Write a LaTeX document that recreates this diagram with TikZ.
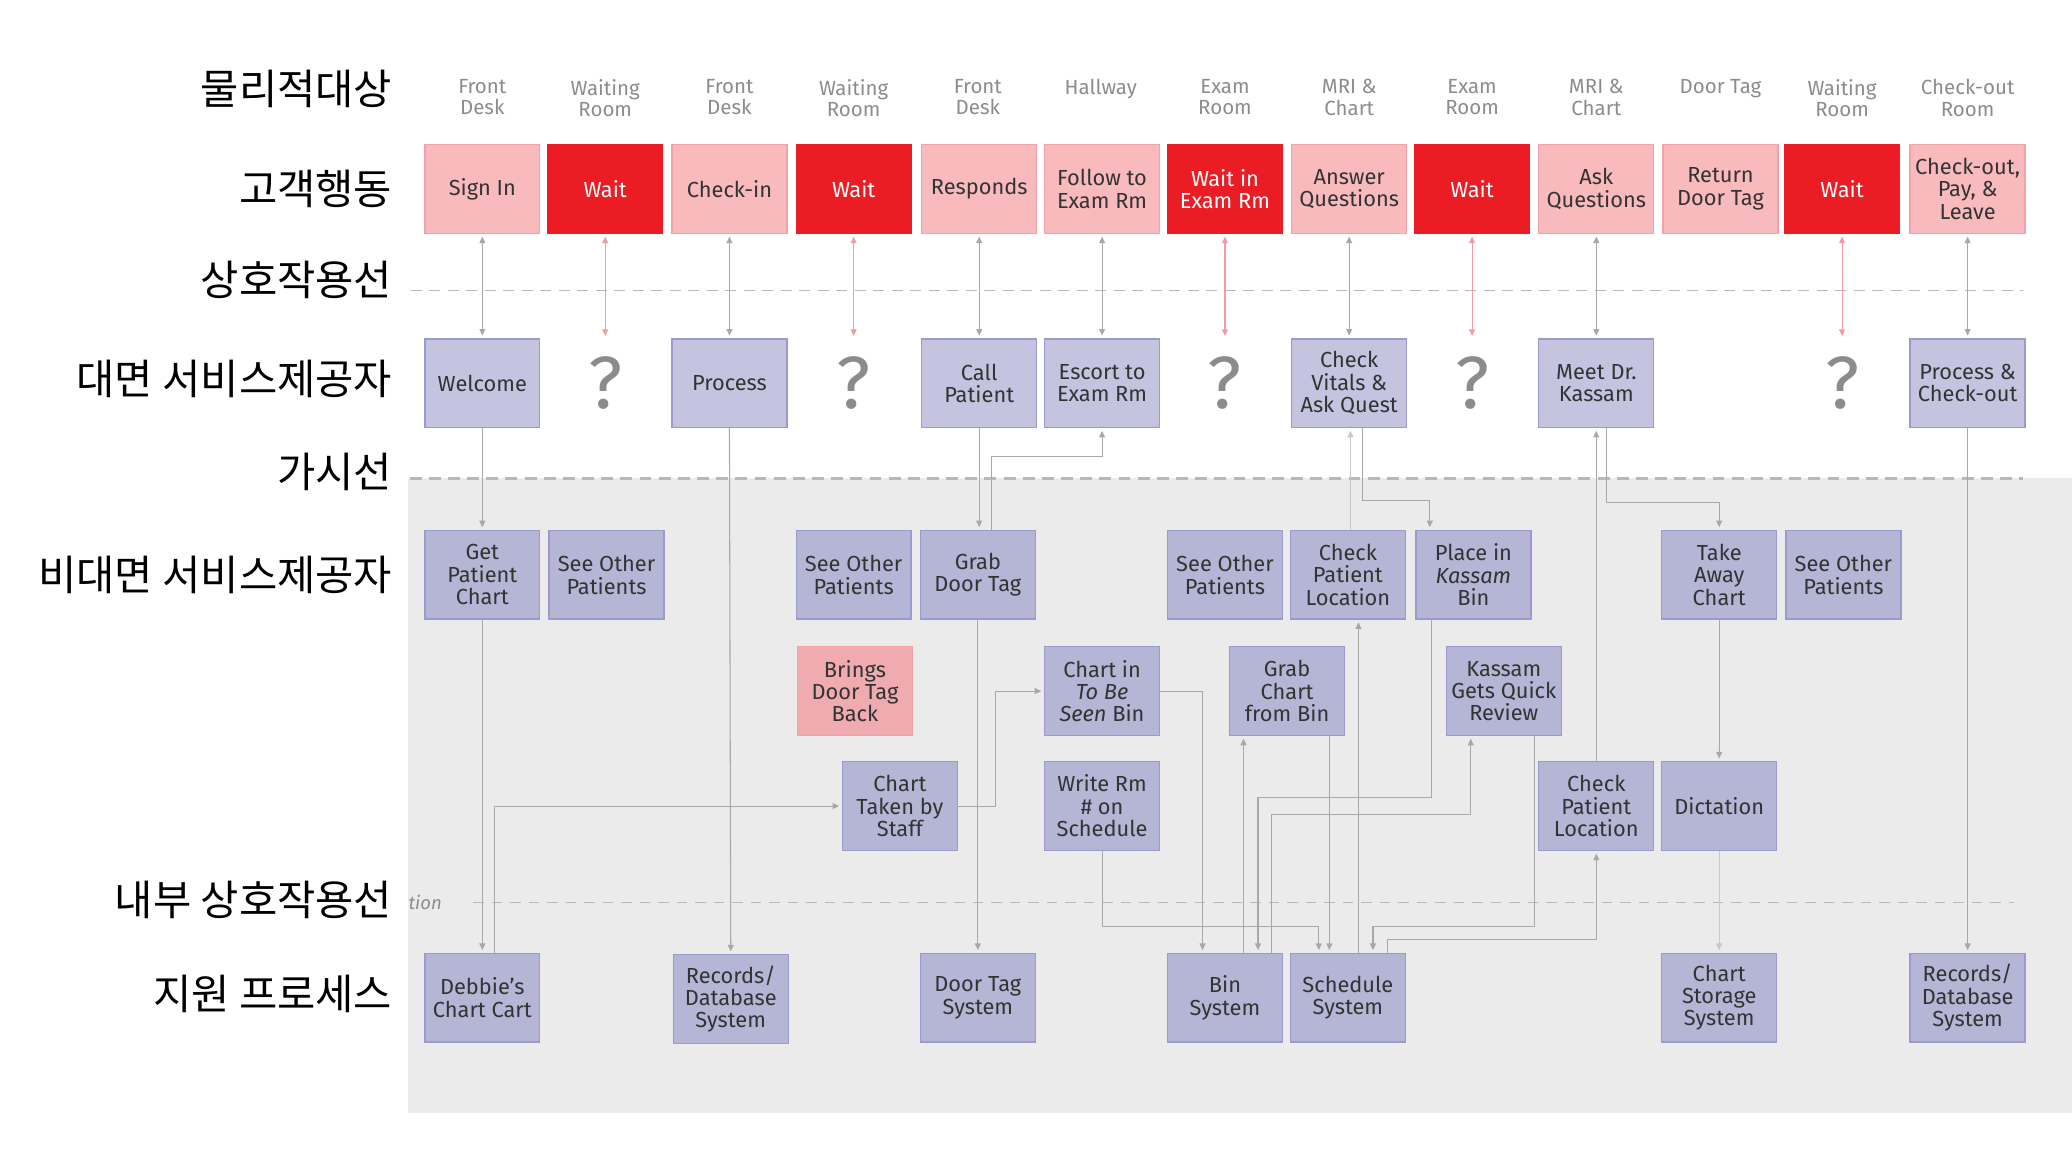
\documentclass[tikz,border=0pt]{standalone}
\usepackage{fontspec}
\setmainfont{Fira Sans}
\newfontfamily\krfont{Noto Sans CJK KR}
\usetikzlibrary{arrows.meta,calc}
\definecolor{custpink}{HTML}{F9BABD}
\definecolor{custline}{HTML}{F4A2A7}
\definecolor{waitred}{HTML}{EC1C24}
\definecolor{bringsfill}{HTML}{EFABAF}
\definecolor{frontfill}{HTML}{C4C4E1}
\definecolor{backfill}{HTML}{B5B5D5}
\definecolor{boxline}{HTML}{9A9ACC}
\definecolor{textdark}{HTML}{333333}
\definecolor{labelgray}{HTML}{8C8C8C}
\definecolor{linegray}{HTML}{A8A8A8}
\definecolor{lightline}{HTML}{C8C8C8}
\definecolor{pinkline}{HTML}{F29CA1}
\definecolor{bggray}{HTML}{EBEBEB}
\definecolor{dashgray}{HTML}{B8B8B8}

\tikzset{
  box/.style={rectangle, minimum width=87pt, minimum height=67pt, inner sep=1pt,
    align=center, text=textdark, line width=1pt, font=\fontsize{16.5}{17}\selectfont},
  cust/.style={box, fill=custpink, draw=custline},
  waitbox/.style={box, fill=waitred, draw=waitred, text=white},
  front/.style={box, fill=frontfill, draw=boxline},
  back/.style={box, fill=backfill, draw=boxline},
  brings/.style={box, fill=bringsfill, draw=custline},
  qmark/.style={minimum width=87pt, minimum height=67pt, inner sep=0pt, text=labelgray,
    font=\fontsize{56}{56}\selectfont},
  physlabel/.style={anchor=north, inner sep=0pt, align=center, text=labelgray,
    font=\fontsize{15.5}{16}\selectfont},
  rowlabel/.style={anchor=east, inner sep=0pt, font=\krfont\fontsize{31.5}{34}\selectfont},
  tip/.tip={Triangle[length=5pt,width=4.5pt]},
  flow/.style={draw=linegray, line width=0.8pt, -tip, shorten >=2pt},
  touch/.style={draw=linegray, line width=0.8pt, tip-tip, shorten >=2pt, shorten <=2pt},
}

\begin{document}
\begin{tikzpicture}[x=1pt, y=1pt]
\useasboundingbox (0,0) rectangle (1568,875);
% backstage area
\fill[bggray] (309,33) rectangle (1568,513);
% lines
\draw[dashgray, line width=1.1pt, dash pattern=on 8pt off 6pt] (311,655) -- (1531,655);
\draw[dashgray, line width=2.5pt, dash pattern=on 9pt off 5.5pt] (310,513) -- (1531,513);
\draw[dashgray, line width=1.1pt, dash pattern=on 8pt off 6pt] (358,192) -- (1524,192);
\node[anchor=west, inner sep=0pt, text=labelgray, font=\itshape\fontsize{14}{14}\selectfont] (tion) at (309,192) {tion};

% row labels
\node[rowlabel] (lphys) at (297,808) {물리적대상};
\node[rowlabel] (lcust) at (297,732) {고객행동};
\node[rowlabel] (linter) at (297,663) {상호작용선};
\node[rowlabel] (lfront) at (297,588) {대면 서비스제공자};
\node[rowlabel] (lvis) at (297,518) {가시선};
\node[rowlabel] (lback) at (297,440) {비대면 서비스제공자};
\node[rowlabel] (linternal) at (297,194) {내부 상호작용선};
\node[rowlabel] (lsupport) at (297,123) {지원 프로세스};

% physical evidence
\foreach \x/\t in {365/{Front\\Desk}, 458/{Waiting\\Room}, 552/{Front\\Desk},
    646/{Waiting\\Room}, 740/{Front\\Desk}, 833/{Hallway}, 927/{Exam\\Room},
    1021/{MRI \&\\Chart}, 1114/{Exam\\Room}, 1208/{MRI \&\\Chart}, 1302/{Door Tag},
    1394/{Waiting\\Room}, 1489/{Check-out\\Room}}
  \node[physlabel] at (\x,815) {\t};

% customer actions
\node[cust] (signin) at (365,732) {Sign In};
\node[waitbox] (wait1) at (458,732) {Wait};
\node[cust] (checkin) at (552,732) {Check-in};
\node[waitbox] (wait2) at (646,732) {Wait};
\node[cust] (responds) at (741,732) {Responds};
\node[cust] (follow) at (834,732) {Follow to\\Exam Rm};
\node[waitbox] (wait3) at (927,732) {Wait in\\Exam Rm};
\node[cust] (answer) at (1021,732) {Answer\\Questions};
\node[waitbox] (wait4) at (1114,732) {Wait};
\node[cust] (ask) at (1208,732) {Ask\\Questions};
\node[cust] (return) at (1302,732) {Return\\Door Tag};
\node[waitbox] (wait5) at (1394,732) {Wait};
\node[cust] (checkout) at (1489,732) {Check-out,\\Pay, \&\\Leave};

% onstage
\node[front] (welcome) at (365,585) {Welcome};
\node[qmark] (q1) at (458,585) {?};
\node[front] (process) at (552,585) {Process};
\node[qmark] (q2) at (646,585) {?};
\node[front] (call) at (741,585) {Call\\Patient};
\node[front] (escort) at (834,585) {Escort to\\Exam Rm};
\node[qmark] (q3) at (927,585) {?};
\node[front] (vitals) at (1021,585) {Check\\Vitals \&\\Ask Quest};
\node[qmark] (q4) at (1114,585) {?};
\node[front] (meetdr) at (1208,585) {Meet Dr.\\Kassam};
\node[qmark] (q5) at (1394,585) {?};
\node[front] (procout) at (1489,585) {Process \&\\Check-out};

% backstage
\node[back] (getchart) at (365,440) {Get\\Patient\\Chart};
\node[back] (other1) at (459,440) {See Other\\Patients};
\node[back] (other2) at (646,440) {See Other\\Patients};
\node[back] (grabtag) at (740,440) {Grab\\Door Tag};
\node[back] (other3) at (927,440) {See Other\\Patients};
\node[back] (checkloc) at (1020,440) {Check\\Patient\\Location};
\node[back] (place) at (1115,440) {Place in\\\textit{Kassam}\\Bin};
\node[back] (takeaway) at (1301,440) {Take\\Away\\Chart};
\node[back] (other4) at (1395,440) {See Other\\Patients};

\node[brings] (brings) at (647,352) {Brings\\Door Tag\\Back};
\node[back] (tbs) at (834,352) {Chart in\\\textit{To Be}\\\textit{Seen} Bin};
\node[back] (grabchart) at (974,352) {Grab\\Chart\\from Bin};
\node[back] (review) at (1138,352) {Kassam\\Gets Quick\\Review};

\node[back] (taken) at (681,265) {Chart\\Taken by\\Staff};
\node[back] (writerm) at (834,265) {Write Rm\\\# on\\Schedule};
\node[back] (checkloc2) at (1208,265) {Check\\Patient\\Location};
\node[back] (dictation) at (1301,265) {Dictation};

% support processes
\node[back] (debbie) at (365,120) {Debbie’s\\Chart Cart};
\node[back] (records1) at (553,119) {Records/\\Database\\System};
\node[back] (tagsys) at (740,120) {Door Tag\\System};
\node[back] (bin) at (927,120) {Bin\\System};
\node[back] (sched) at (1020,120) {Schedule\\System};
\node[back] (storage) at (1301,120) {Chart\\Storage\\System};
\node[back] (records2) at (1489,120) {Records/\\Database\\System};

% line of interaction
\foreach \a/\b in {signin/welcome, checkin/process, responds/call, follow/escort,
    answer/vitals, ask/meetdr, checkout/procout}
  \draw[touch] (\a.south) -- (\b.north);
\foreach \a/\b in {wait1/q1, wait2/q2, wait3/q3, wait4/q4, wait5/q5}
  \draw[touch, draw=pinkline] (\a.south) -- (\b.north);

% flows
\draw[flow] (welcome.south) -- (getchart.north);
\draw[flow] (getchart.south) -- (debbie.north);
\draw[flow] ([xshift=9pt]debbie.north) |- (taken.west);
\draw[flow] (process.south) -- (records1.north);
\draw[flow] (call.south) -- (call.south |- grabtag.north);
\draw[flow] ([xshift=10pt]grabtag.north) -- ++(0,55.5) -| (escort.south);
\draw[flow] (grabtag.south) -- (tagsys.north);
\draw[flow] (taken.east) -- ++(28,0) |- (tbs.west);
\draw[flow] (tbs.east) -| ([xshift=-17pt]bin.north);
\draw[flow] (writerm.south) -- ++(0,-57) -| ([xshift=-22pt]sched.north);
\draw[flow] ([xshift=14pt]bin.north) -- ([xshift=14pt]bin.north |- grabchart.south);
\draw[flow] ([xshift=32pt]grabchart.south) -- ([xshift=32pt]grabchart.south |- sched.north);
\draw[flow] ([xshift=-32pt]place.south) -- ++(0,-134.5) -| ([xshift=25pt]bin.north);
\draw[flow] ([xshift=35pt]bin.north) -- ++(0,104.5) -| ([xshift=-25pt]review.south);
\draw[flow] ([xshift=23pt]review.south) -- ++(0,-144) -| ([xshift=19pt]sched.north);
\draw[flow] ([xshift=8pt]sched.north) -- ([xshift=8pt]sched.north |- checkloc.south);
\draw[flow] ([xshift=30pt]sched.north) -- ++(0,10) -| (checkloc2.south);
\draw[flow] (checkloc2.north) -- (meetdr.south);
\draw[flow] ([xshift=8pt]meetdr.south) -- ++(0,-56) -| (takeaway.north);
\draw[flow] ([xshift=10pt]vitals.south) -- ++(0,-55) -| ([xshift=-33pt]place.north);
\draw[flow, draw=lightline] ([xshift=2pt]checkloc.north) -- ([xshift=2pt]checkloc.north |- vitals.south);
\draw[flow] (takeaway.south) -- (dictation.north);
\draw[flow, draw=lightline] (dictation.south) -- (storage.north);
\draw[flow] (procout.south) -- (records2.north);
\end{tikzpicture}
\end{document}
